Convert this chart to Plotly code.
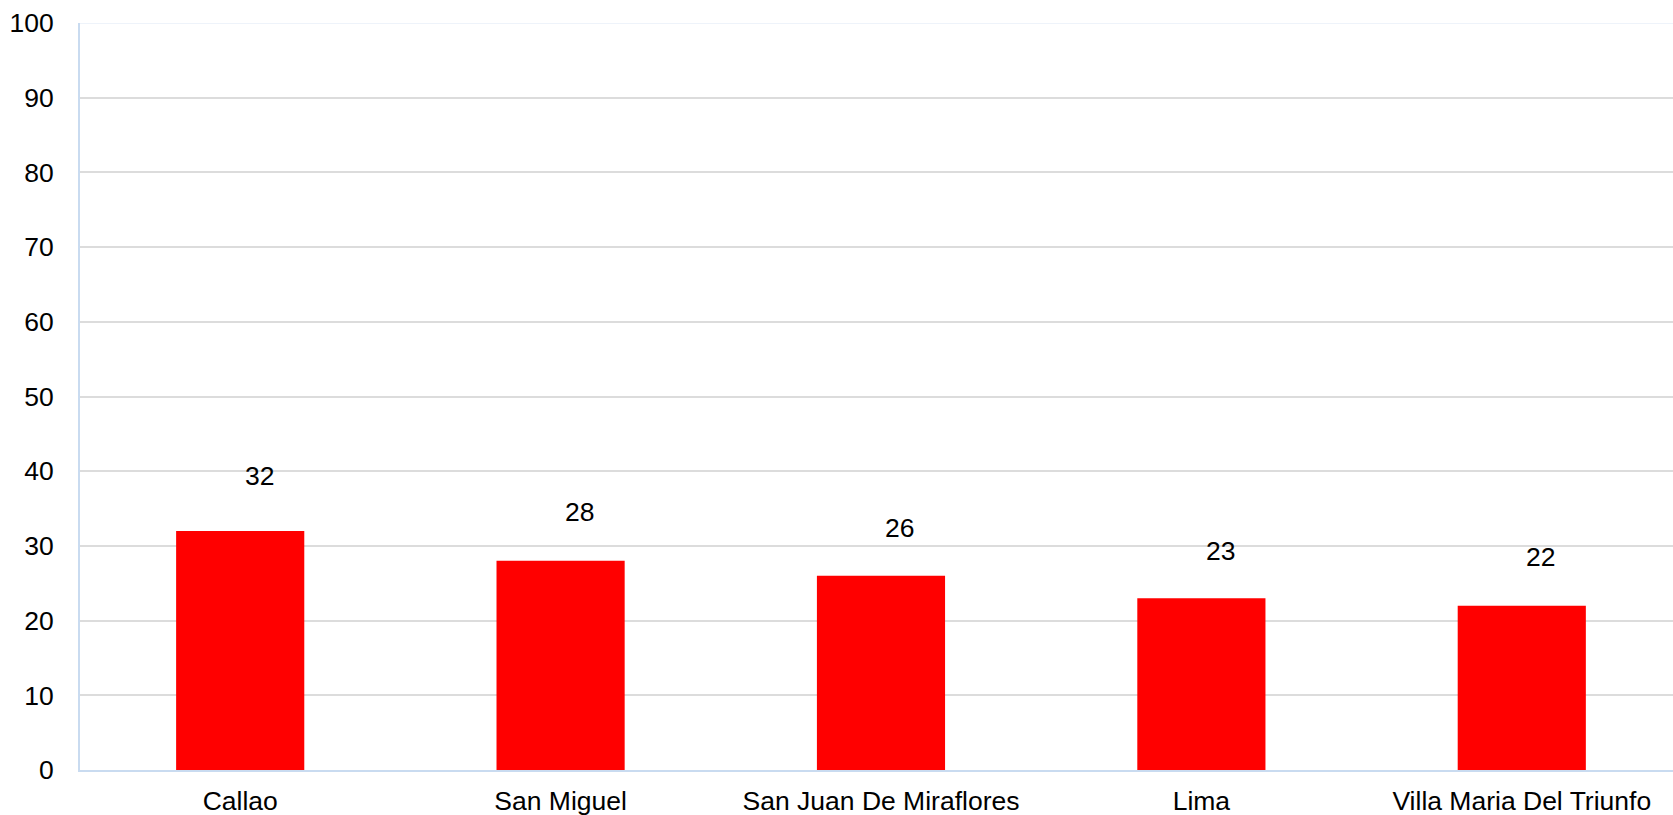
import plotly.graph_objects as go

categories = ["Callao", "San Miguel", "San Juan De Miraflores", "Lima", "Villa Maria Del Triunfo"]
values = [32, 28, 26, 23, 22]
label_y = [39.3, 34.5, 32.4, 29.3, 28.5]
y_ticks = [0, 10, 20, 30, 40, 50, 60, 70, 80, 90, 100]

FONT = "Liberation Sans, Arial, sans-serif"
FS = 26.5

fig = go.Figure()
fig.add_trace(go.Bar(
    x=categories, y=values, width=0.4,
    marker=dict(color="#ff0000", line=dict(width=0)),
    hoverinfo="skip",
))

for c, v, ly in zip(categories, values, label_y):
    fig.add_annotation(x=c, y=ly, text=str(v), showarrow=False, xshift=19,
                       font=dict(family=FONT, size=FS, color="#000000"))

fig.add_shape(type="line", xref="paper", yref="y", x0=0, x1=1, y0=100, y1=100,
              line=dict(color="#eef3fa", width=2), layer="above")

fig.update_layout(
    width=1673, height=815,
    margin=dict(l=80, r=0, t=23, b=45),
    paper_bgcolor="white", plot_bgcolor="white",
    showlegend=False,
    font=dict(family=FONT, size=FS, color="#000000"),
)
fig.update_xaxes(
    type="category", range=[-0.5, 4.472], automargin=False,
    showline=True, linecolor="#c9dbf0", linewidth=2,
    showgrid=False, ticks="", ticklabelstandoff=6,
    tickfont=dict(family=FONT, size=FS, color="#000000"),
)
fig.update_yaxes(
    range=[0, 100], tickvals=y_ticks, ticktext=[str(t) for t in y_ticks],
    showline=True, linecolor="#c9dbf0", linewidth=2, automargin=False,
    showgrid=True, gridcolor="#dcdcdc", gridwidth=2,
    zeroline=False, ticks="", ticklabelstandoff=19,
    tickfont=dict(family=FONT, size=FS, color="#000000"),
)

fig.write_html(
    "out.html",
    config={"displayModeBar": False},
    post_script="document.body.style.margin='0';document.body.style.overflow='hidden';",
)
